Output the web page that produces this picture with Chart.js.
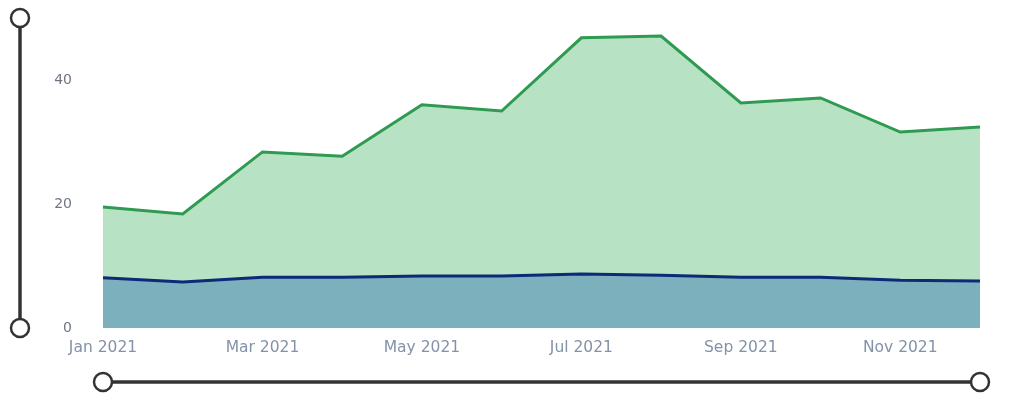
<!DOCTYPE html>
<html>
<head>
<meta charset="utf-8">
<script src="https://cdn.jsdelivr.net/npm/chart.js@4/dist/chart.umd.min.js"></script>
<style>
  html, body { margin: 0; padding: 0; background: #fff; }
  #wrap { width: 1015px; height: 396px; position: relative; }
</style>
</head>
<body>
<div id="wrap"><canvas id="areaChart"></canvas></div>
<script>
// ===== Monthly area chart with range sliders =====

const months = ['Jan 2021', 'Feb 2021', 'Mar 2021', 'Apr 2021', 'May 2021', 'Jun 2021',
  'Jul 2021', 'Aug 2021', 'Sep 2021', 'Oct 2021', 'Nov 2021', 'Dec 2021'];
const totalValues = [19.5, 18.4, 28.4, 27.7, 36.0, 35.0, 46.8, 47.1, 36.3, 37.1, 31.6, 32.4];
const baseValues = [8.1, 7.4, 8.2, 8.2, 8.4, 8.4, 8.7, 8.5, 8.2, 8.2, 7.7, 7.6];
const yTicks = [0, 20, 40];

// --- Slider handles drawn around the plot ---
const sliderPlugin = {
  id: 'sliders',
  afterDraw(chart) {
    const { ctx, chartArea } = chart;
    ctx.save();
    ctx.strokeStyle = '#333';
    ctx.lineCap = 'round';

    // vertical slider
    ctx.lineWidth = 3.5;
    ctx.beginPath();
    ctx.moveTo(20, 27);
    ctx.lineTo(20, chartArea.bottom - 9);
    ctx.stroke();

    // horizontal slider
    const hy = 382;
    ctx.beginPath();
    ctx.moveTo(chartArea.left + 7, hy);
    ctx.lineTo(chartArea.right - 9, hy);
    ctx.stroke();

    const knobs = [[20, 18], [20, chartArea.bottom], [chartArea.left, hy], [chartArea.right, hy]];
    ctx.lineWidth = 2.5;
    ctx.fillStyle = '#fff';
    knobs.forEach(([x, y]) => {
      ctx.beginPath();
      ctx.arc(x, y, 9, 0, Math.PI * 2);
      ctx.fill();
      ctx.stroke();
    });
    ctx.restore();
  }
};

const ctx = document.getElementById('areaChart').getContext('2d');

new Chart(ctx, {
  type: 'line',
  data: {
    labels: months,
    datasets: [
      {
        label: 'Base',
        data: baseValues,
        borderColor: '#0b2a78',
        backgroundColor: '#7bb0bc',
        borderWidth: 3,
        fill: 'origin',
        pointRadius: 0,
        tension: 0
      },
      {
        label: 'Total',
        data: totalValues,
        borderColor: '#2f9a52',
        backgroundColor: '#b8e2c4',
        borderWidth: 3,
        fill: 'origin',
        pointRadius: 0,
        tension: 0
      }
    ]
  },
  options: {
    responsive: true,
    maintainAspectRatio: false,
    animation: false,
    layout: { padding: { top: 18, right: 35, bottom: 39, left: 0 } },
    plugins: {
      legend: { display: false },
      tooltip: { enabled: false }
    },
    scales: {
      x: {
        offset: false,
        grid: { display: false, drawTicks: false },
        border: { display: false },
        afterFit: axis => { axis.height = 29; },
        ticks: {
          autoSkip: false,
          maxRotation: 0,
          padding: 11,
          color: '#8392a8',
          font: { family: 'DejaVu Sans', size: 15.5 },
          callback: (v, i) => (i % 2 === 0 ? months[i] : '')
        }
      },
      y: {
        min: 0,
        max: 50,
        afterFit: axis => { axis.width = 103; },
        afterBuildTicks: axis => { axis.ticks = yTicks.map(v => ({ value: v })); },
        // invisible ticks keep the labels away from the plot
        grid: {
          display: true,
          drawOnChartArea: false,
          drawTicks: true,
          tickLength: 31,
          tickColor: 'rgba(0,0,0,0)'
        },
        border: { display: false },
        ticks: {
          padding: 0,
          color: '#6f7682',
          font: { family: 'DejaVu Sans', size: 14 }
        }
      }
    }
  },
  plugins: [sliderPlugin]
});
</script>
</body>
</html>
